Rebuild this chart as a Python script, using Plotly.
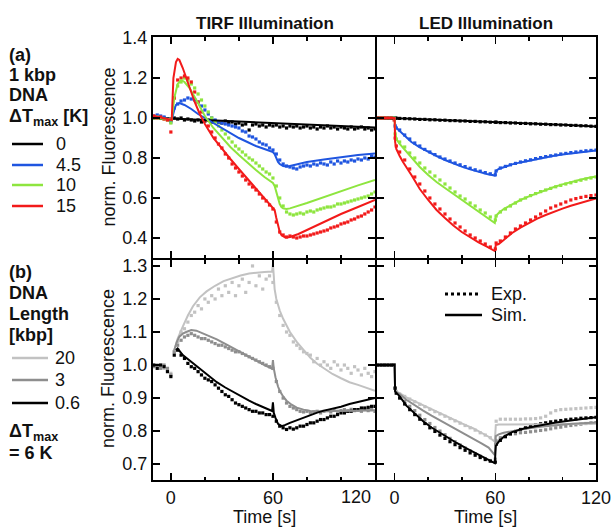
import plotly.graph_objects as go

W, H = 613, 527
FONT = "Arial, Liberation Sans, sans-serif"

# ---------------- colours ----------------
C_BLACK = "#000000"
C_BLUE = "#1f55e0"
C_GREEN = "#8ee53f"
C_RED = "#f21a1a"
C_LGRAY = "#c2c2c2"
C_MGRAY = "#8e8e8e"

# ---------------- (a) TIRF, 1 kbp DNA : experiment ----------------
t_tirf_exp = [-10, -8, -6, -4, -2, 0, 2, 4, 6, 8, 10, 12, 14, 16, 18, 20, 22, 24, 26, 28,
              30, 32, 34, 36, 38, 40, 42, 44, 46, 48, 50, 52, 54, 56, 58, 60, 62, 64, 66, 68,
              70, 72, 74, 76, 78, 80, 82, 84, 86, 88, 90, 92, 94, 96, 98, 100, 102, 104, 106, 108,
              110, 112, 114, 116, 118, 120]

a_tirf_exp_0 = [1.0, 1.005, 0.998, 1.0, 0.995, 0.99, 1.0, 0.995, 1.0, 0.99, 0.995, 0.99, 0.985, 0.99, 0.98, 0.985, 0.99, 0.98, 0.985, 0.98,
                0.975, 0.985, 0.975, 0.98, 0.97, 0.975, 0.965, 0.97, 0.94, 0.965, 0.97, 0.96, 0.965, 0.955, 0.965, 0.96, 0.965, 0.955, 0.96, 0.95,
                0.96, 0.955, 0.96, 0.95, 0.955, 0.96, 0.95, 0.955, 0.945, 0.955, 0.95, 0.96, 0.95, 0.955, 0.945, 0.955, 0.95, 0.945, 0.955, 0.945,
                0.95, 0.955, 0.945, 0.95, 0.94, 0.945]
a_tirf_exp_45 = [1.01, 1.015, 1.01, 1.005, 0.995, 0.98, 1.05, 1.07, 1.085, 1.09, 1.1, 1.095, 1.09, 1.08, 1.06, 1.04, 1.02, 1.0, 0.99, 0.98,
                 0.975, 0.97, 0.965, 0.96, 0.955, 0.95, 0.935, 0.93, 0.91, 0.905, 0.895, 0.88, 0.87, 0.865, 0.85, 0.84, 0.82, 0.79, 0.77, 0.76,
                 0.755, 0.75, 0.745, 0.755, 0.76, 0.765, 0.76, 0.77, 0.765, 0.775, 0.77, 0.765, 0.78, 0.77, 0.785, 0.775, 0.785, 0.78, 0.79, 0.785,
                 0.795, 0.79, 0.8, 0.795, 0.81, 0.805]
a_tirf_exp_10 = [1.0, 1.005, 1.0, 0.995, 0.99, 0.975, 1.1, 1.16, 1.18, 1.2, 1.19, 1.17, 1.15, 1.12, 1.09, 1.06, 1.03, 1.0, 0.98, 0.96,
                 0.94, 0.92, 0.9, 0.88, 0.86, 0.845, 0.83, 0.815, 0.8, 0.79, 0.775, 0.76, 0.745, 0.73, 0.72, 0.7, 0.66, 0.6, 0.56, 0.53,
                 0.52, 0.515, 0.52, 0.525, 0.52, 0.53, 0.535, 0.53, 0.54, 0.545, 0.55, 0.555, 0.555, 0.56, 0.57, 0.57, 0.575, 0.58, 0.585, 0.59,
                 0.595, 0.6, 0.605, 0.61, 0.62, 0.63]
a_tirf_exp_15 = [1.01, 1.0, 1.005, 0.995, 0.99, 0.93, 1.1, 1.19, 1.2, 1.21, 1.2, 1.18, 1.13, 1.08, 1.03, 0.99, 0.96, 0.93, 0.9, 0.87,
                 0.85, 0.82, 0.8, 0.77, 0.75, 0.73, 0.71, 0.69, 0.67, 0.655, 0.64, 0.62, 0.6, 0.585, 0.565, 0.545, 0.48, 0.43, 0.415, 0.405,
                 0.41, 0.405, 0.4, 0.405, 0.41, 0.41, 0.415, 0.42, 0.425, 0.43, 0.435, 0.44, 0.45, 0.455, 0.46, 0.47, 0.475, 0.48, 0.49, 0.495,
                 0.505, 0.51, 0.52, 0.53, 0.54, 0.555]

# ---------------- (a) TIRF : simulation ----------------
t_tirf_sim_0 = [-10, 0, 20, 40, 60, 80, 100, 120]
a_tirf_sim_0 = [1.0, 0.998, 0.99, 0.982, 0.974, 0.966, 0.958, 0.952]

t_tirf_sim_45 = [-10, -5, -1, 0.5, 2, 3, 5, 8, 12, 16, 20, 25, 30, 35, 40, 45, 50, 55, 60, 61, 62, 63, 64, 65, 66, 68, 70, 75, 80, 90, 100, 110, 120]
a_tirf_sim_45 = [1.0, 1.0, 0.995, 0.99, 1.04, 1.065, 1.075, 1.065, 1.045, 1.02, 1.0, 0.975, 0.95, 0.925, 0.9, 0.88, 0.86, 0.845, 0.83, 0.82, 0.8, 0.78, 0.77, 0.763, 0.76, 0.758, 0.76, 0.77, 0.78, 0.793, 0.805, 0.815, 0.823]

t_tirf_sim_10 = [-10, -1, 0.5, 2, 4, 6, 8, 11, 15, 20, 25, 30, 35, 40, 45, 50, 55, 60, 61, 62, 63, 64, 65, 66, 68, 70, 80, 90, 100, 110, 120]
a_tirf_sim_10 = [1.0, 0.995, 0.99, 1.1, 1.17, 1.19, 1.18, 1.15, 1.09, 1.01, 0.95, 0.9, 0.855, 0.815, 0.775, 0.74, 0.705, 0.675, 0.66, 0.63, 0.6, 0.57, 0.555, 0.548, 0.545, 0.548, 0.575, 0.605, 0.635, 0.663, 0.69]

t_tirf_sim_15 = [-10, -1, 0.5, 1.5, 3, 4, 5, 7, 9, 11, 14, 17, 20, 25, 30, 35, 40, 45, 50, 55, 60, 61, 62, 63, 64, 65, 66, 67, 68, 70, 75, 80, 90, 100, 110, 120]
a_tirf_sim_15 = [1.01, 0.995, 0.99, 1.2, 1.28, 1.295, 1.29, 1.25, 1.2, 1.15, 1.08, 1.02, 0.97, 0.9, 0.845, 0.795, 0.745, 0.695, 0.645, 0.595, 0.55, 0.54, 0.5, 0.46, 0.43, 0.415, 0.408, 0.404, 0.403, 0.405, 0.42, 0.44, 0.48, 0.52, 0.555, 0.59]

# ---------------- (a) LED ----------------
t_led_exp = [-10, -8, -6, -4, -2, -0.3, 0.3, 1, 3, 6, 9, 12, 15, 18, 21, 24, 27, 30, 33, 36,
             39, 42, 45, 48, 51, 54, 57, 60, 60.5, 63, 66, 69, 72, 75, 78, 81, 84, 87, 90, 93,
             96, 99, 102, 105, 108, 111, 114, 117, 120]

a_led_exp_0 = [1.0, 1.0, 1.0, 1.0, 1.0, 1.0, 1.0, 0.999, 0.998, 0.997, 0.996, 0.995, 0.993, 0.993, 0.991, 0.991, 0.989, 0.989, 0.987, 0.987,
               0.985, 0.985, 0.983, 0.983, 0.981, 0.981, 0.979, 0.979, 0.979, 0.977, 0.977, 0.975, 0.975, 0.973, 0.973, 0.971, 0.971, 0.969, 0.969, 0.967,
               0.967, 0.965, 0.965, 0.963, 0.963, 0.961, 0.961, 0.959, 0.958]
a_led_exp_45 = [1.0, 1.0, 1.0, 1.0, 1.0, 1.0, 0.96, 0.95, 0.94, 0.915, 0.895, 0.875, 0.86, 0.843, 0.83, 0.817, 0.805, 0.795, 0.785, 0.775,
                0.766, 0.757, 0.749, 0.741, 0.734, 0.727, 0.721, 0.716, 0.735, 0.75, 0.758, 0.766, 0.773, 0.78, 0.786, 0.791, 0.797, 0.802, 0.807, 0.811,
                0.815, 0.82, 0.823, 0.827, 0.83, 0.833, 0.836, 0.838, 0.84]
a_led_exp_10 = [1.0, 1.0, 1.0, 1.0, 1.0, 1.0, 0.92, 0.895, 0.88, 0.855, 0.825, 0.8, 0.775, 0.75, 0.73, 0.71, 0.69, 0.67, 0.65, 0.63,
                0.61, 0.595, 0.575, 0.56, 0.54, 0.525, 0.505, 0.49, 0.51, 0.53, 0.545, 0.56, 0.575, 0.59, 0.6, 0.612, 0.622, 0.632, 0.64, 0.648,
                0.656, 0.663, 0.67, 0.676, 0.683, 0.689, 0.695, 0.7, 0.705]
a_led_exp_15 = [1.0, 1.0, 1.0, 1.0, 1.0, 0.99, 0.9, 0.86, 0.83, 0.79, 0.745, 0.705, 0.67, 0.635, 0.6, 0.57, 0.545, 0.52, 0.495, 0.475,
                0.455, 0.435, 0.415, 0.4, 0.385, 0.37, 0.355, 0.345, 0.375, 0.385, 0.405, 0.425, 0.445, 0.46, 0.475, 0.49, 0.505, 0.52, 0.535, 0.55,
                0.56, 0.57, 0.58, 0.59, 0.597, 0.603, 0.608, 0.612, 0.615]

t_led_sim = [-10, 0, 0.3, 1, 3, 5, 10, 15, 20, 25, 30, 35, 40, 45, 50, 55, 59.7, 60.3, 62, 65, 70, 75, 80, 85, 90, 95, 100, 105, 110, 115, 120]
a_led_sim_0 = [1.0, 1.0, 1.0, 1.0, 0.999, 0.998, 0.996, 0.995, 0.993, 0.992, 0.99, 0.988, 0.986, 0.985, 0.983, 0.981, 0.98, 0.98, 0.979, 0.978, 0.976, 0.975, 0.973, 0.971, 0.97, 0.968, 0.966, 0.964, 0.962, 0.96, 0.958]
a_led_sim_45 = [1.0, 1.0, 0.97, 0.95, 0.935, 0.92, 0.88, 0.853, 0.83, 0.81, 0.79, 0.772, 0.757, 0.743, 0.73, 0.72, 0.712, 0.735, 0.745, 0.755, 0.768, 0.778, 0.787, 0.796, 0.804, 0.811, 0.817, 0.823, 0.828, 0.833, 0.837]
a_led_sim_10 = [1.0, 1.0, 0.93, 0.895, 0.87, 0.85, 0.8, 0.755, 0.715, 0.68, 0.65, 0.62, 0.59, 0.56, 0.53, 0.5, 0.475, 0.51, 0.525, 0.545, 0.568, 0.59, 0.608, 0.625, 0.64, 0.655, 0.668, 0.68, 0.69, 0.7, 0.708]
a_led_sim_15 = [1.0, 1.0, 0.88, 0.845, 0.81, 0.78, 0.715, 0.645, 0.59, 0.54, 0.5, 0.462, 0.43, 0.402, 0.378, 0.357, 0.335, 0.365, 0.37, 0.39, 0.425, 0.452, 0.475, 0.497, 0.515, 0.532, 0.547, 0.561, 0.574, 0.587, 0.598]

# ---------------- (b) TIRF, DNA length, dT = 6 K : experiment ----------------
b_tirf_exp_20 = [1.0, 0.995, 1.0, 0.99, 0.985, 0.975, 1.04, 1.07, 1.1, 1.11, 1.13, 1.15, 1.16, 1.18, 1.17, 1.2, 1.19, 1.21, 1.2, 1.23,
                 1.21, 1.24, 1.22, 1.25, 1.21, 1.24, 1.26, 1.22, 1.25, 1.3, 1.24, 1.27, 1.23, 1.26, 1.27, 1.25, 1.19, 1.15, 1.12, 1.1,
                 1.09, 1.07, 1.06, 1.05, 1.04, 1.035, 1.03, 1.01, 1.02, 1.0, 1.01, 1.0, 0.99, 1.01, 1.0, 0.985, 1.0, 0.99, 0.975, 0.995,
                 0.985, 0.97, 0.99, 0.975, 0.965, 0.98]
b_tirf_exp_3 = [0.995, 1.0, 0.99, 1.0, 0.99, 0.97, 1.04, 1.06, 1.075, 1.085, 1.09, 1.095, 1.09, 1.085, 1.08, 1.08, 1.075, 1.07, 1.065, 1.06,
                1.06, 1.055, 1.05, 1.045, 1.04, 1.04, 1.035, 1.03, 1.025, 1.02, 1.015, 1.01, 1.005, 1.0, 0.995, 0.99, 0.95, 0.92, 0.9, 0.885,
                0.875, 0.87, 0.865, 0.86, 0.858, 0.86, 0.855, 0.858, 0.86, 0.855, 0.86, 0.862, 0.858, 0.865, 0.86, 0.862, 0.865, 0.86, 0.866, 0.862,
                0.865, 0.86, 0.866, 0.862, 0.865, 0.86]
b_tirf_exp_06 = [1.0, 0.99, 1.0, 0.995, 0.98, 0.965, 1.03, 1.045, 1.03, 1.02, 1.005, 0.995, 0.99, 0.98, 0.97, 0.96, 0.955, 0.95, 0.94, 0.93,
                 0.92, 0.91, 0.905, 0.895, 0.885, 0.88, 0.875, 0.87, 0.865, 0.86, 0.86, 0.855, 0.855, 0.85, 0.85, 0.845, 0.83, 0.815, 0.81, 0.805,
                 0.81, 0.806, 0.81, 0.815, 0.815, 0.82, 0.825, 0.825, 0.83, 0.835, 0.835, 0.84, 0.845, 0.845, 0.85, 0.855, 0.855, 0.86, 0.86, 0.865,
                 0.865, 0.87, 0.87, 0.872, 0.875, 0.875]

# ---------------- (b) TIRF : simulation ----------------
t_b_sim_20 = [2, 4, 7, 10, 13, 17, 21, 26, 31, 36, 41, 46, 50, 55, 59.5, 60, 60.5, 61, 62, 64, 66, 70, 74, 78, 82, 86, 90, 95, 100, 105, 110, 115, 120]
b_tirf_sim_20 = [1.045, 1.08, 1.116, 1.15, 1.178, 1.205, 1.223, 1.24, 1.254, 1.263, 1.271, 1.277, 1.28, 1.282, 1.283, 1.305, 1.27, 1.23, 1.2, 1.165, 1.14, 1.1, 1.07, 1.045, 1.022, 1.004, 0.99, 0.973, 0.96, 0.948, 0.94, 0.93, 0.922]

t_b_sim_3 = [2, 3.5, 5, 7, 9, 12, 15, 17, 22, 27, 32, 37, 42, 46, 50, 55, 59.5, 60, 60.5, 61.5, 63, 64, 66, 68, 71, 74, 78, 82, 86, 90, 100, 110, 120]
b_tirf_sim_3 = [1.045, 1.07, 1.086, 1.095, 1.1, 1.106, 1.104, 1.1, 1.09, 1.078, 1.064, 1.05, 1.036, 1.024, 1.013, 1.0, 0.989, 1.015, 0.99, 0.963, 0.935, 0.922, 0.905, 0.892, 0.88, 0.871, 0.865, 0.861, 0.86, 0.86, 0.861, 0.862, 0.863]

t_b_sim_06 = [3, 4, 7, 12, 17, 22, 27, 32, 37, 42, 46, 50, 55, 59.5, 60, 60.5, 61.5, 63, 65, 67, 70, 74, 78, 82, 86, 90, 95.5, 100, 105, 110, 115, 120]
b_tirf_sim_06 = [1.045, 1.05, 1.03, 1.009, 0.989, 0.968, 0.948, 0.932, 0.917, 0.903, 0.892, 0.882, 0.871, 0.861, 0.887, 0.855, 0.84, 0.822, 0.815, 0.818, 0.825, 0.833, 0.84, 0.848, 0.856, 0.862, 0.868, 0.874, 0.882, 0.888, 0.894, 0.9]

# ---------------- (b) LED ----------------
b_led_exp_20 = [1.0, 1.0, 1.0, 1.0, 1.0, 1.0, 0.93, 0.92, 0.912, 0.905, 0.897, 0.889, 0.881, 0.874, 0.866, 0.859, 0.852, 0.845, 0.838, 0.831,
                0.824, 0.817, 0.81, 0.803, 0.795, 0.788, 0.78, 0.772, 0.83, 0.836, 0.836, 0.836, 0.836, 0.836, 0.837, 0.837, 0.838, 0.84, 0.845, 0.855,
                0.862, 0.865, 0.866, 0.867, 0.868, 0.869, 0.87, 0.871, 0.872]
b_led_exp_3 = [1.0, 1.0, 1.0, 1.0, 1.0, 1.0, 0.93, 0.915, 0.905, 0.89, 0.875, 0.862, 0.848, 0.835, 0.823, 0.811, 0.8, 0.789, 0.778, 0.768,
               0.758, 0.749, 0.74, 0.732, 0.724, 0.717, 0.711, 0.715, 0.77, 0.78, 0.785, 0.79, 0.792, 0.795, 0.796, 0.798, 0.8, 0.802, 0.804, 0.807,
               0.81, 0.812, 0.815, 0.817, 0.819, 0.821, 0.823, 0.825, 0.826]
b_led_exp_06 = [1.0, 1.0, 1.0, 1.0, 1.0, 1.0, 0.93, 0.915, 0.9, 0.882, 0.865, 0.85, 0.836, 0.823, 0.81, 0.799, 0.788, 0.778, 0.768, 0.759,
                0.75, 0.742, 0.734, 0.727, 0.72, 0.714, 0.709, 0.706, 0.76, 0.772, 0.783, 0.792, 0.799, 0.805, 0.81, 0.815, 0.819, 0.822, 0.825, 0.828,
                0.83, 0.832, 0.834, 0.836, 0.837, 0.839, 0.84, 0.841, 0.842]

t_b_led_sim = [-10, 0, 0.3, 3, 7, 12, 17, 22, 27, 32, 37, 42, 47, 52, 56, 59.7, 60.3, 62, 65, 70, 77, 87, 96, 106, 120]
b_led_sim_20 = [1.0, 1.0, 0.922, 0.915, 0.902, 0.89, 0.877, 0.865, 0.853, 0.841, 0.83, 0.819, 0.808, 0.795, 0.783, 0.768, 0.818, 0.82, 0.82, 0.82, 0.821, 0.821, 0.822, 0.822, 0.822]
b_led_sim_3 = [1.0, 1.0, 0.92, 0.912, 0.895, 0.878, 0.862, 0.847, 0.833, 0.82, 0.806, 0.792, 0.778, 0.762, 0.75, 0.727, 0.785, 0.79, 0.795, 0.8, 0.806, 0.813, 0.818, 0.822, 0.826]
b_led_sim_06 = [1.0, 1.0, 0.92, 0.905, 0.877, 0.853, 0.83, 0.811, 0.795, 0.779, 0.764, 0.75, 0.737, 0.723, 0.713, 0.703, 0.755, 0.768, 0.783, 0.797, 0.808, 0.818, 0.826, 0.833, 0.842]

# ---------------- labels ----------------
panel_titles = ["TIRF Illumination", "LED Illumination"]
y_title = "norm. Fluorescence"
x_title = "Time [s]"
legend_a_head = ["(a)", "1 kbp", "DNA", "ΔT<sub>max</sub> [K]"]
legend_a_items = ["0", "4.5", "10", "15"]
legend_b_head = ["(b)", "DNA", "Length", "[kbp]"]
legend_b_items = ["20", "3", "0.6"]
legend_b_foot = ["ΔT<sub>max</sub>", "= 6 K"]
style_items = ["Exp.", "Sim."]
x_ticks_left = [0, 60]
x_ticks_right = [0, 60, 120]
x_minor = [20, 40, 80, 100]
y_ticks_a = [0.4, 0.6, 0.8, 1.0, 1.2, 1.4]
y_ticks_b = [0.7, 0.8, 0.9, 1.0, 1.1, 1.2, 1.3]

# ---------------- figure ----------------
def px(x):
    return x / W

def py(y):
    return 1 - y / H

# panel edges in pixels (right/bottom panels start 2 px later so shared borders coincide)
L1, L2, L2b, L3 = 153, 375, 377, 596
T1, T2, T2b, T3 = 37, 258, 260, 480

fig = go.Figure()

def add_exp(t, v, color, ax, size=3.2):
    fig.add_trace(go.Scatter(x=t, y=v, mode="markers", xaxis="x" + ax, yaxis="y" + ax,
                             marker=dict(color=color, size=size, symbol="square", line=dict(width=0)),
                             showlegend=False, hoverinfo="skip"))

def add_sim(t, v, color, ax, width=2):
    fig.add_trace(go.Scatter(x=t, y=v, mode="lines", xaxis="x" + ax, yaxis="y" + ax,
                             line=dict(color=color, width=width), showlegend=False, hoverinfo="skip"))

# panel 1: TIRF (a)
add_exp(t_tirf_exp, a_tirf_exp_0, C_BLACK, "")
add_exp(t_tirf_exp, a_tirf_exp_45, C_BLUE, "")
add_exp(t_tirf_exp, a_tirf_exp_10, C_GREEN, "")
add_exp(t_tirf_exp, a_tirf_exp_15, C_RED, "")
add_sim(t_tirf_sim_0, a_tirf_sim_0, C_BLACK, "")
add_sim(t_tirf_sim_45, a_tirf_sim_45, C_BLUE, "")
add_sim(t_tirf_sim_10, a_tirf_sim_10, C_GREEN, "")
add_sim(t_tirf_sim_15, a_tirf_sim_15, C_RED, "")

# panel 2: LED (a)
add_exp(t_led_exp, a_led_exp_0, C_BLACK, "2")
add_exp(t_led_exp, a_led_exp_45, C_BLUE, "2")
add_exp(t_led_exp, a_led_exp_10, C_GREEN, "2")
add_exp(t_led_exp, a_led_exp_15, C_RED, "2")
add_sim(t_led_sim, a_led_sim_0, C_BLACK, "2")
add_sim(t_led_sim, a_led_sim_45, C_BLUE, "2")
add_sim(t_led_sim, a_led_sim_10, C_GREEN, "2")
add_sim(t_led_sim, a_led_sim_15, C_RED, "2")

# panel 3: TIRF (b)
add_exp(t_tirf_exp, b_tirf_exp_20, C_LGRAY, "3")
add_exp(t_tirf_exp, b_tirf_exp_3, C_MGRAY, "3")
add_exp(t_tirf_exp, b_tirf_exp_06, C_BLACK, "3")
add_sim(t_b_sim_20, b_tirf_sim_20, C_LGRAY, "3")
add_sim(t_b_sim_3, b_tirf_sim_3, C_MGRAY, "3")
add_sim(t_b_sim_06, b_tirf_sim_06, C_BLACK, "3")

# panel 4: LED (b)
add_exp(t_led_exp, b_led_exp_20, C_LGRAY, "4")
add_exp(t_led_exp, b_led_exp_3, C_MGRAY, "4")
add_exp(t_led_exp, b_led_exp_06, C_BLACK, "4")
add_sim(t_b_led_sim, b_led_sim_20, C_LGRAY, "4")
add_sim(t_b_led_sim, b_led_sim_3, C_MGRAY, "4")
add_sim(t_b_led_sim, b_led_sim_06, C_BLACK, "4")

tickfont = dict(family=FONT, size=18, color="#111")

def xax(domain, anchor, vals, labels):
    return dict(domain=domain, anchor=anchor, range=[-10.5, 120], tickvals=vals,
                showticklabels=labels, ticks="inside", ticklen=7, tickwidth=1.5, tickcolor="black",
                showline=True, linecolor="black", linewidth=2, mirror="allticks", automargin=False,
                showgrid=False, zeroline=False, tickfont=tickfont, fixedrange=True,
                minor=dict(tickvals=x_minor, ticks="inside", ticklen=3.5, tickwidth=1.5, tickcolor="black", showgrid=False))

def yax(domain, anchor, rng, vals, labels):
    return dict(domain=domain, anchor=anchor, range=rng, tickvals=vals, tickformat=".1f",
                showticklabels=labels, ticks="inside", ticklen=7, tickwidth=1.5, tickcolor="black",
                showline=True, linecolor="black", linewidth=2, mirror="allticks", automargin=False,
                showgrid=False, zeroline=False, tickfont=tickfont, fixedrange=True)

dxl = [px(L1), px(L2)]
dxr = [px(L2b), px(L3)]
dyt = [py(T2), py(T1)]
dyb = [py(T3), py(T2b)]

fig.update_layout(
    template="none",
    width=W, height=H, autosize=False,
    margin=dict(l=0, r=0, t=0, b=0, pad=0),
    paper_bgcolor="white", plot_bgcolor="white",
    font=dict(family=FONT, size=18, color="#111"),
    showlegend=False,
    xaxis=xax(dxl, "y", x_ticks_left, False),
    yaxis=yax(dyt, "x", [0.3, 1.405], y_ticks_a, True),
    xaxis2=xax(dxr, "y2", x_ticks_right, False),
    yaxis2=yax(dyt, "x2", [0.3, 1.405], y_ticks_a, False),
    xaxis3=xax(dxl, "y3", x_ticks_left, True),
    yaxis3=yax(dyb, "x3", [0.652, 1.318], y_ticks_b, True),
    xaxis4=xax(dxr, "y4", x_ticks_right, True),
    yaxis4=yax(dyb, "x4", [0.652, 1.318], y_ticks_b, False),
)

ann = []
def text(x, y, s, size=18, bold=False, xanchor="left", angle=0):
    ann.append(dict(x=px(x), y=py(y), xref="paper", yref="paper", text=("<b>%s</b>" % s) if bold else s,
                    showarrow=False, xanchor=xanchor, yanchor="middle", textangle=angle,
                    font=dict(family=FONT, size=size, color="#111")))

# panel titles
text((L1 + L2) / 2 + 1, 23, panel_titles[0], size=17, bold=True, xanchor="center")
text((L2 + L3) / 2, 23, panel_titles[1], size=17, bold=True, xanchor="center")
# y titles
text(108, (T1 + T2) / 2, y_title, xanchor="center", angle=-90)
text(108, (T2 + T3) / 2, y_title, xanchor="center", angle=-90)
# x titles
text((L1 + L2) / 2, 517, x_title, xanchor="center")
text((L2 + L3) / 2, 517, x_title, xanchor="center")
# "120" tick label of left panel, shifted left of the divider
ann.append(dict(x=120, y=py(497), xref="x3", yref="paper", text="120", showarrow=False,
                xanchor="right", yanchor="middle", xshift=-2, font=dict(family=FONT, size=18, color="#111")))

# legend (a)
for s, y in zip(legend_a_head, [55, 75, 95, 117]):
    text(7, y, s, size=18, bold=True)
shapes = []
for s, y, c in zip(legend_a_items, [144, 165, 185, 206], [C_BLACK, C_BLUE, C_GREEN, C_RED]):
    shapes.append(dict(type="line", xref="paper", yref="paper", x0=px(12), x1=px(43), y0=py(y), y1=py(y),
                       line=dict(color=c, width=2.5)))
    text(54, y, s)
# legend (b)
for s, y in zip(legend_b_head, [272, 293, 314, 335]):
    text(7, y, s, size=18, bold=True)
for s, y, c in zip(legend_b_items, [358, 380, 403], [C_LGRAY, C_MGRAY, C_BLACK]):
    shapes.append(dict(type="line", xref="paper", yref="paper", x0=px(12), x1=px(48), y0=py(y), y1=py(y),
                       line=dict(color=c, width=2.5)))
    text(53, y, s)
for s, y in zip(legend_b_foot, [432, 453]):
    text(7, y, s, size=18, bold=True)
# Exp./Sim. legend
shapes.append(dict(type="line", xref="paper", yref="paper", x0=px(445), x1=px(481), y0=py(294), y1=py(294),
                   line=dict(color="black", width=3, dash="dot")))
shapes.append(dict(type="line", xref="paper", yref="paper", x0=px(445), x1=px(482), y0=py(315), y1=py(315),
                   line=dict(color="black", width=2.5)))
text(489, 294, style_items[0])
text(489, 315, style_items[1])

fig.update_layout(annotations=ann, shapes=shapes)
fig.write_html("out.html", config={"displayModeBar": False, "staticPlot": True})

# remove the default 8px page margin so the figure sits at the window origin
with open("out.html", "r", encoding="utf-8") as f:
    html = f.read()
html = html.replace("<head>", "<head><style>html,body{margin:0;padding:0;overflow:hidden;}</style>", 1)
with open("out.html", "w", encoding="utf-8") as f:
    f.write(html)
